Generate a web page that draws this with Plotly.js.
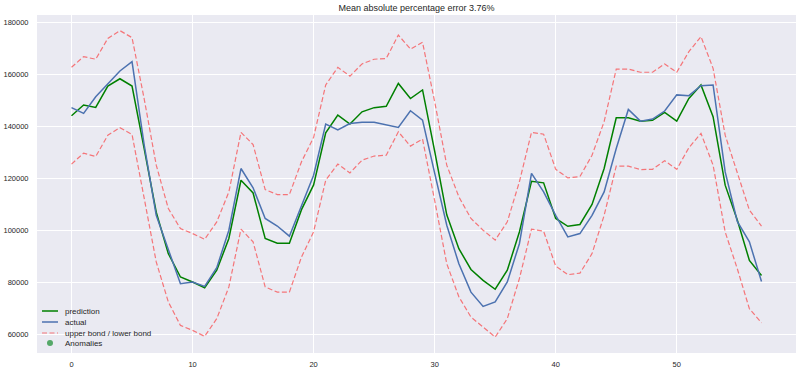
<!DOCTYPE html>
<html>
<head>
<meta charset="utf-8">
<script src="https://cdn.plot.ly/plotly-3.0.1.min.js"></script>
<style>html,body{margin:0;padding:0;background:#fff;}#chart{width:800px;height:370px;}</style>
</head>
<body>
<div id="chart"></div>
<script>
const steps = [0,1,2,3,4,5,6,7,8,9,10,11,12,13,14,15,16,17,18,19,20,21,22,23,24,25,26,27,28,29,30,31,32,33,34,35,36,37,38,39,40,41,42,43,44,45,46,47,48,49,50,51,52,53,54,55,56,57];

const prediction = [144100,148200,147300,155500,158300,155500,131500,107000,91100,82100,
  80200,78000,84700,96900,119300,114400,96900,95100,95100,108000,
  117500,137500,144300,140900,145600,147200,147700,156500,150700,154000,
  130500,106000,93000,85000,80800,77400,84700,99400,118900,118300,
  104600,101600,102300,110000,123800,143300,143300,142000,142300,145400,
  142000,150700,155900,143700,117400,104000,88500,82700];

const actual = [147200,145000,151400,156300,161300,164900,133000,105800,93000,79500,
  80200,78500,85700,100100,123800,116400,104600,101700,97800,109500,
  121200,140900,138600,141100,141600,141600,140700,139600,146000,142400,
  122000,102000,87200,76300,70800,72500,80200,94900,121900,114800,
  105800,97500,98800,105800,114800,131500,146500,142000,142800,145900,
  152100,151800,155600,155900,122500,103500,95600,80400];

const upperBond = [162700,166800,165800,173800,176800,174100,150700,125100,108400,100700,
  98800,96600,103300,114800,137700,133000,115700,113800,113800,126400,
  135800,155900,162700,159300,164000,165800,166100,175100,169700,172300,
  149500,125100,112900,104600,100100,96300,103300,118700,137700,137000,
  123500,120200,120700,128900,141800,162000,162000,160800,160800,164000,
  160800,168700,174500,162300,136600,122500,107800,101700];

const lowerBond = [125500,129700,128400,136600,139500,136900,112500,87900,72500,63500,
  61600,59300,66100,78300,100500,95600,78300,76300,76300,89800,
  99500,119300,125500,122100,127000,128600,128900,137900,132400,135100,
  111500,87200,74500,66700,62900,59000,66100,81500,100500,99700,
  86300,83000,83600,91100,105800,124700,124700,123400,123500,126800,
  123500,131800,137300,125100,99400,85300,69900,64500];

const xTicks = [0,10,20,30,40,50];
const yTicks = [60000,80000,100000,120000,140000,160000,180000];
const titleText = 'Mean absolute percentage error 3.76%';
const legendLabels = ['prediction','actual','upper bond / lower bond','Anomalies'];

const FONT = 'Liberation Sans, Arial, sans-serif';
const TXT = '#262626';
const bandColor = 'rgba(255,0,0,0.5)';

const traces = [
  {x: steps, y: prediction, type:'scatter', mode:'lines', name: legendLabels[0],
   line:{color:'#008000', width:1.5}, showlegend:false},
  {x: steps, y: actual, type:'scatter', mode:'lines', name: legendLabels[1],
   line:{color:'#4C72B0', width:1.5}, showlegend:false},
  {x: steps, y: upperBond, type:'scatter', mode:'lines', name: legendLabels[2],
   line:{color:bandColor, width:1.2, dash:'5px,2.5px'}, showlegend:false},
  {x: steps, y: lowerBond, type:'scatter', mode:'lines', name: 'lower bond',
   line:{color:bandColor, width:1.2, dash:'5px,2.5px'}, showlegend:false}
];

// custom compact legend (matplotlib-like)
const L = 37, R = 796, T = 15, B = 353;
const pw = R - L, ph = B - T;
const px = v => (v - L) / pw;
const py = v => (B - v) / ph;
const rows = [311, 322, 333, 343];
const shapes = [
  {type:'line', xref:'paper', yref:'paper', x0:px(42), x1:px(58), y0:py(rows[0]), y1:py(rows[0]), line:{color:'#008000', width:1.5}},
  {type:'line', xref:'paper', yref:'paper', x0:px(42), x1:px(58), y0:py(rows[1]), y1:py(rows[1]), line:{color:'#4C72B0', width:1.5}},
  {type:'line', xref:'paper', yref:'paper', x0:px(42), x1:px(58), y0:py(rows[2]), y1:py(rows[2]), line:{color:bandColor, width:1.2, dash:'5px,2.5px'}},
  {type:'circle', xref:'paper', yref:'paper', x0:px(47), x1:px(53), y0:py(rows[3]+3), y1:py(rows[3]-3), fillcolor:'#55A868', line:{color:'#55A868', width:0}}
];
const annotations = legendLabels.map((t, i) => ({
  text: t, xref:'paper', yref:'paper', x: px(63), y: py(rows[i]),
  xanchor:'left', yanchor:'middle', showarrow:false,
  font:{family:FONT, size:8, color:TXT}
}));

const layout = {
  width: 800, height: 370,
  margin: {l: L, r: 800 - R, t: T, b: 370 - B, pad: 0},
  paper_bgcolor: '#ffffff',
  plot_bgcolor: '#EAEAF2',
  showlegend: false,
  title: {text: titleText, x: 0.5, xref:'paper', xanchor:'center',
          y: 1 - 8/370, yref:'container', yanchor:'middle',
          font:{family:FONT, size:9, color:TXT}},
  xaxis: {range:[-2.85, 59.85], tickvals: xTicks, ticktext: xTicks.map(String),
          showgrid:true, gridcolor:'#ffffff', gridwidth:1, zeroline:false,
          showline:false, ticks:'outside', ticklen:4, tickcolor:'rgba(0,0,0,0)',
          tickfont:{family:FONT, size:7.5, color:TXT}},
  yaxis: {range:[52900, 182800], tickvals: yTicks, ticktext: yTicks.map(String),
          showgrid:true, gridcolor:'#ffffff', gridwidth:1, zeroline:false,
          showline:false, ticks:'outside', ticklen:6, tickcolor:'rgba(0,0,0,0)',
          tickfont:{family:FONT, size:7.5, color:TXT}},
  shapes: shapes,
  annotations: annotations
};

Plotly.newPlot('chart', traces, layout, {staticPlot:true, displayModeBar:false});
</script>
</body>
</html>
